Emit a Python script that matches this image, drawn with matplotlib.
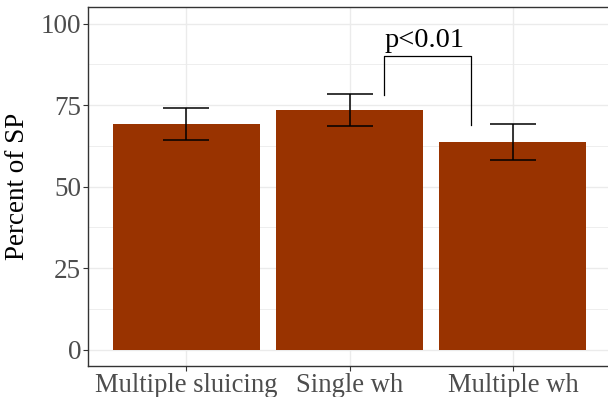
import numpy as np
import matplotlib
matplotlib.use("Agg")
import matplotlib.pyplot as plt
from matplotlib.ticker import MultipleLocator

# ── data ─────────────────────────────────────────────────────────────
categories = ["Multiple sluicing", "Single wh", "Multiple wh"]
means = [69.2, 73.5, 63.7]
err_low = [64.3, 68.7, 58.1]
err_high = [74.0, 78.3, 69.2]

# significance bracket (x in category units, y in percent)
bracket_x = [2.21, 2.74]
bracket_top = 90
bracket_ends = [78, 69]
sig_label = "p<0.01"

BAR = "#993300"
GRID = "#EBEBEB"

plt.rcParams["font.family"] = ["Liberation Serif", "DejaVu Serif"]

fig = plt.figure(figsize=(6.08, 3.97), dpi=100)
ax = fig.add_axes([88.3 / 608, 31 / 397, (611 - 88.3) / 608, (366 - 7.3) / 397])

x = np.arange(1, len(categories) + 1)
ax.bar(x, means, width=0.9, color=BAR, zorder=2)

lo = np.array(means) - np.array(err_low)
hi = np.array(err_high) - np.array(means)
ax.errorbar(x, means, yerr=[lo, hi], fmt="none", ecolor="black",
            elinewidth=1.1, capsize=16.3, capthick=1.1, zorder=3)

# bracket
ax.plot([bracket_x[0], bracket_x[0], bracket_x[1], bracket_x[1]],
        [bracket_ends[0], bracket_top, bracket_top, bracket_ends[1]],
        color="black", lw=0.9, zorder=3)
ax.text(np.mean(bracket_x) - 0.015, bracket_top + 1.0, sig_label, ha="center",
        va="bottom", fontsize=20.5, color="black")

ax.set_xlim(0.4, 3.6)
ax.set_ylim(-5, 105)
ax.set_xticks(x)
ax.set_xticklabels(categories)
ax.yaxis.set_major_locator(MultipleLocator(25))
ax.yaxis.set_minor_locator(MultipleLocator(12.5))
ax.set_ylabel("Percent of SP", fontsize=19.5, color="black")
ax.yaxis.set_label_coords(-0.112, 0.5)

ax.grid(which="major", color=GRID, lw=1.0, zorder=0)
ax.grid(which="minor", axis="y", color=GRID, lw=0.6, zorder=0)
ax.set_axisbelow(True)
ax.tick_params(which="major", labelsize=19.5, labelcolor="#4D4D4D",
               color="#333333", length=3.5, width=0.8, pad=1.5)
ax.tick_params(axis="x", labelsize=19.2)
ax.tick_params(which="minor", length=0)
for s in ax.spines.values():
    s.set_color("#333333")
    s.set_linewidth(1.0)

fig.savefig("out.png", dpi=100)
